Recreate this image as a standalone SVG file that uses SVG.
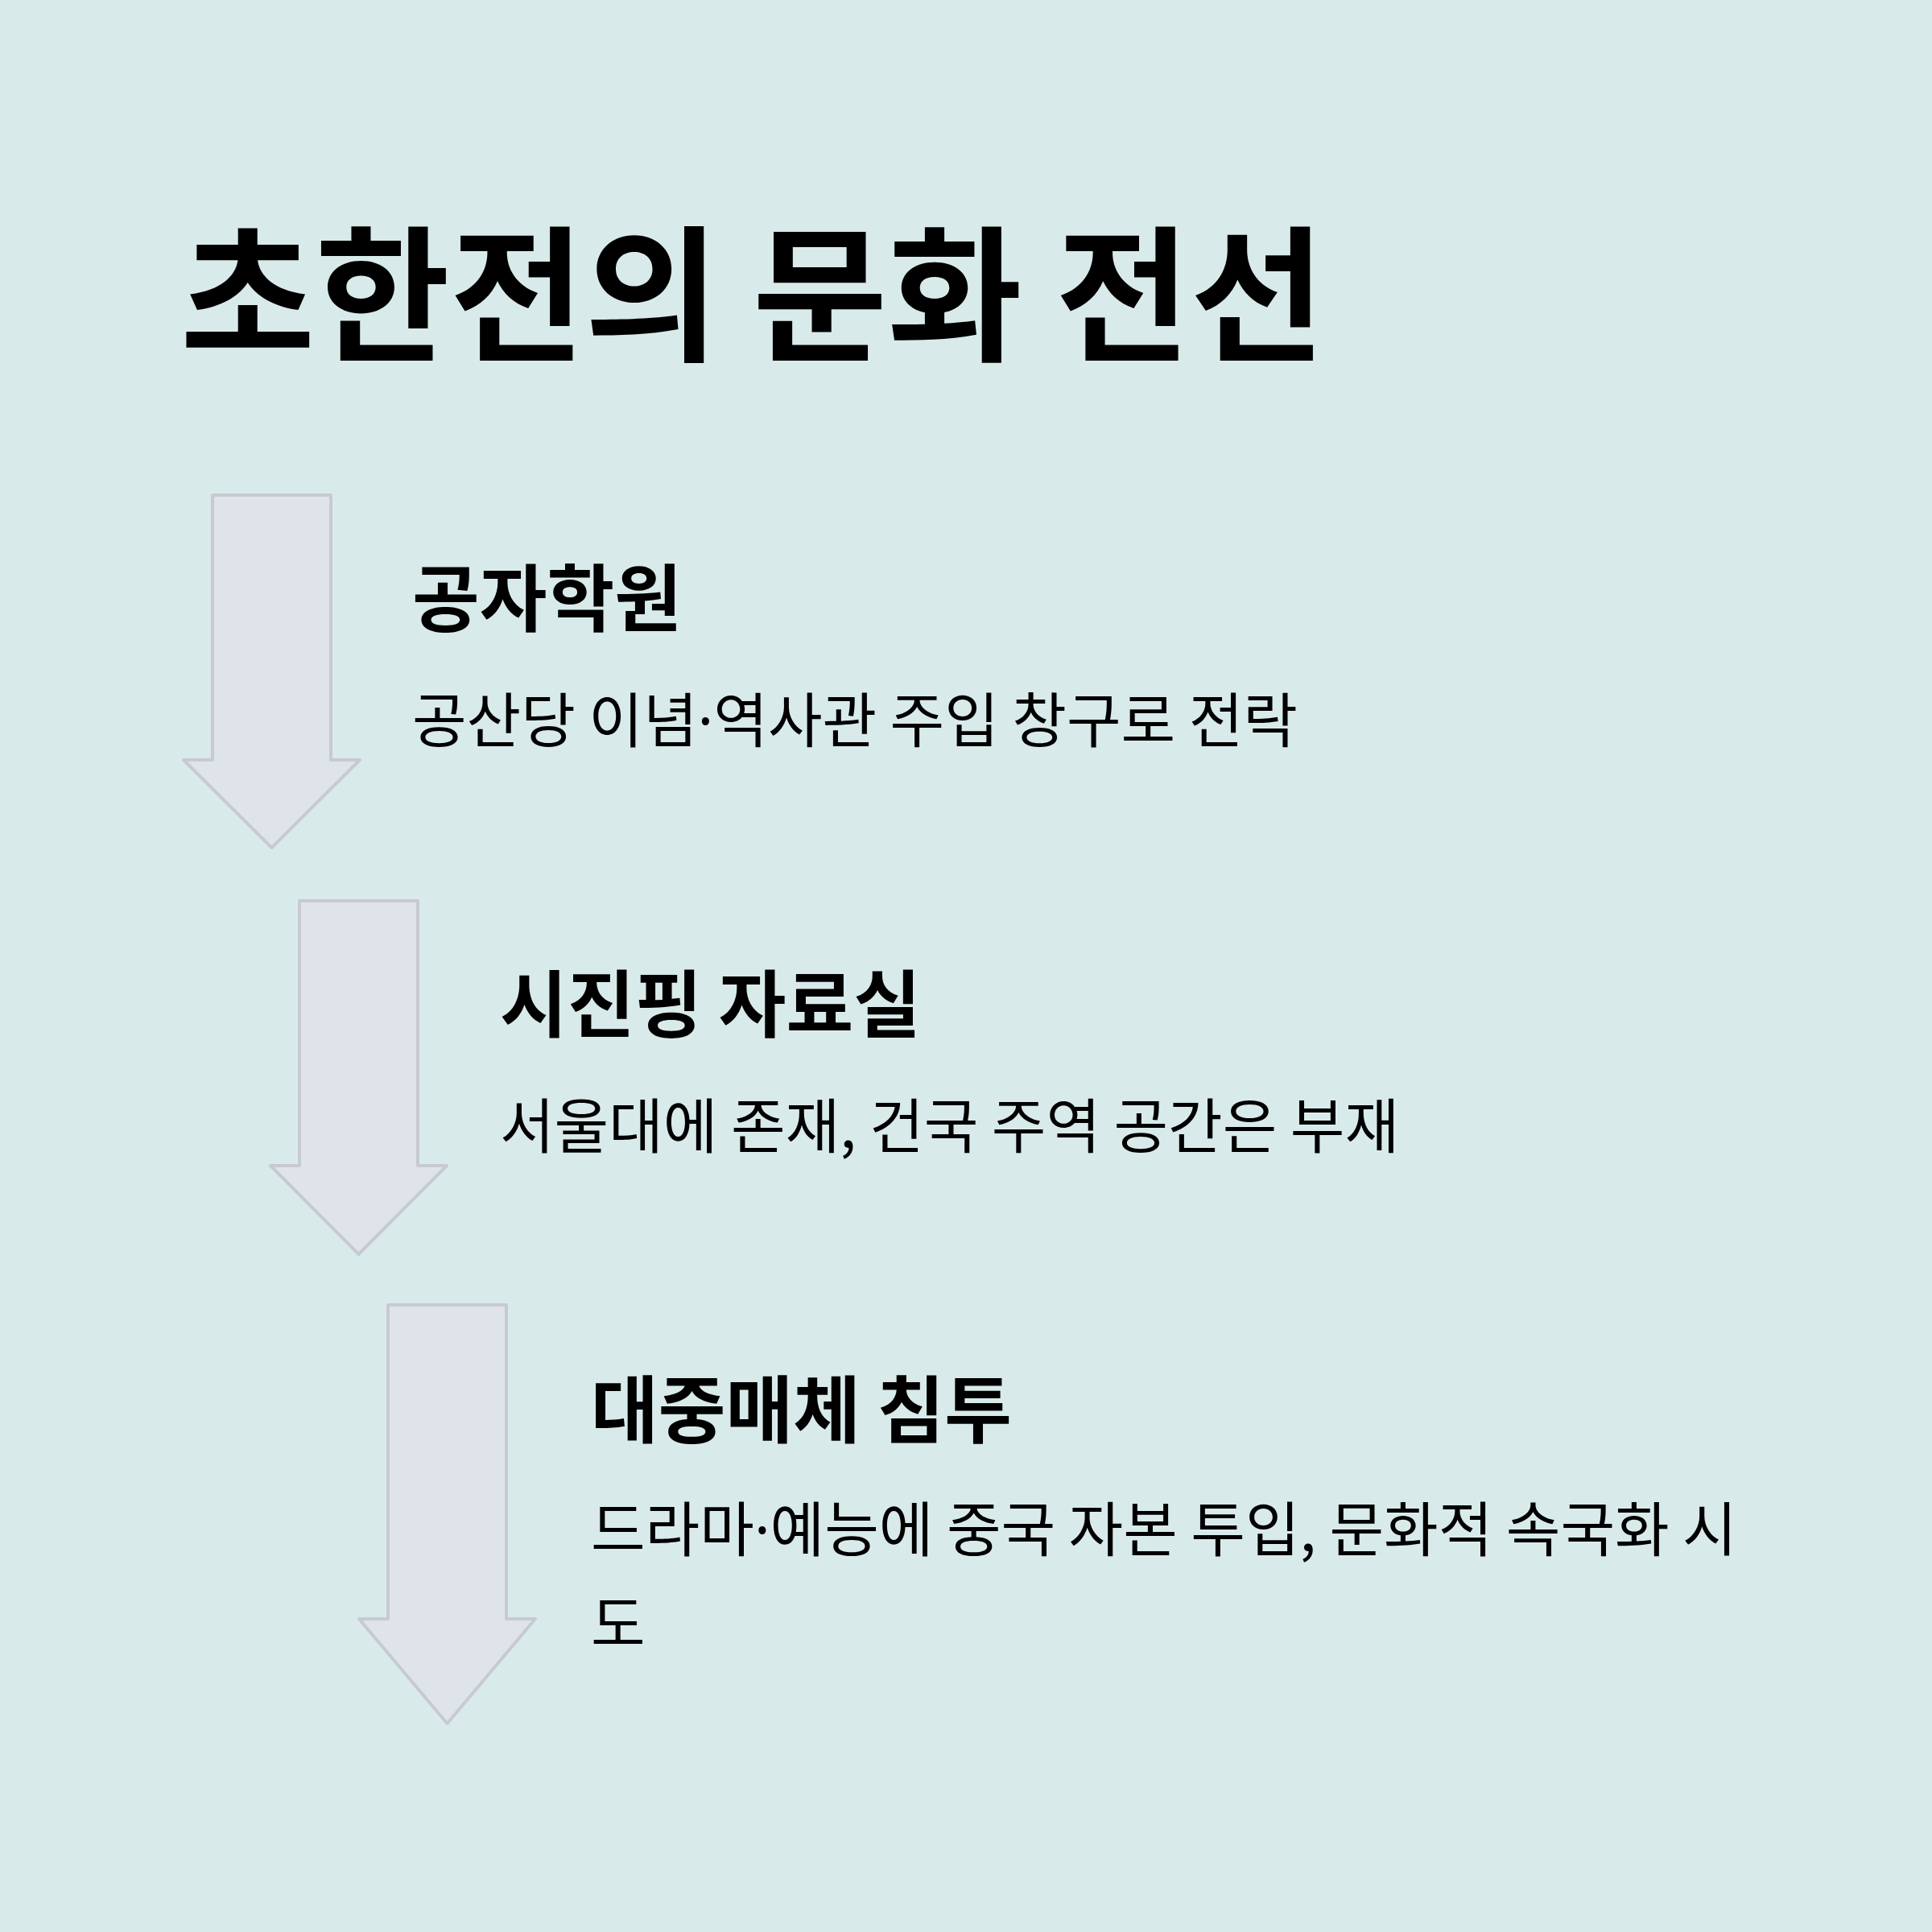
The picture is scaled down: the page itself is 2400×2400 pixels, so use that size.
<svg xmlns="http://www.w3.org/2000/svg" width="2400" height="2400" viewBox="0 0 2400 2400">
<style>
.bg{fill:#d9eaea}
.arrow{fill:#dfe3ea;stroke:#c7cad1;stroke-width:4;stroke-linejoin:round}
.title{font-family:"Noto Sans CJK KR","Noto Sans",sans-serif;font-weight:700;font-size:182px;fill:#000}
.head{font-family:"Noto Sans CJK KR","Noto Sans",sans-serif;font-weight:700;font-size:91px;fill:#000}
.body{font-family:"Noto Sans CJK KR","Noto Sans",sans-serif;font-weight:400;font-size:73.5px;fill:#000}
.dot{font-family:"Noto Sans","Liberation Sans",sans-serif}
</style>
<rect class="bg" x="0" y="0" width="2400" height="2400"/>
<g id="title"><text class="title" x="224" y="434">초한전의 문화 전선</text></g>
<g id="connectors">
<path id="arrow1" class="arrow" d="M264,615 H411 V944 H447 L337.5,1053 L228,944 H264 Z"/>
<path id="arrow2" class="arrow" d="M372,1119 H519 V1448 H555 L445.5,1558 L336,1448 H372 Z"/>
<path id="arrow3" class="arrow" d="M482,1621 H629 V2011 H665 L555.5,2141 L446,2011 H482 Z"/>
</g>
<g id="node1">
<text class="head" x="512" y="777">공자학원</text>
<text class="body" x="512" y="922">공산당 이념<tspan class="dot">·</tspan>역사관 주입 창구로 전락</text>
</g>
<g id="node2">
<text class="head" x="621" y="1281">시진핑 자료실</text>
<text class="body" x="621" y="1426">서울대에 존재, 건국 주역 공간은 부재</text>
</g>
<g id="node3">
<text class="head" x="734" y="1785">대중매체 침투</text>
<text class="body" x="734" y="1927">드라마<tspan class="dot">·</tspan>예능에 중국 자본 투입, 문화적 속국화 시</text>
<text class="body" x="734" y="2044">도</text>
</g>
</svg>
